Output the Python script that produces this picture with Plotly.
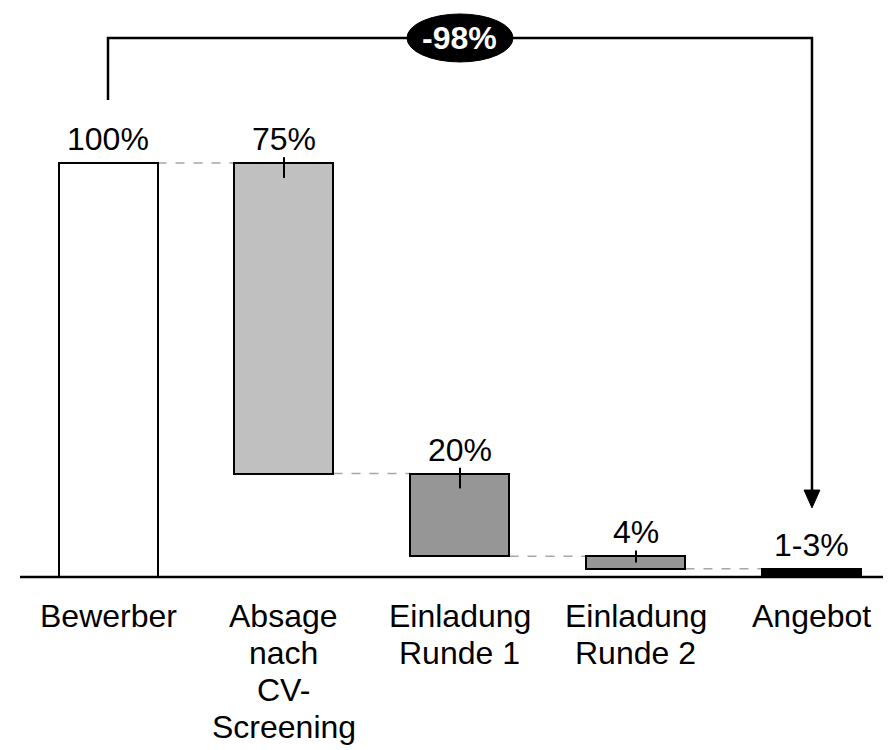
import plotly.graph_objects as go

categories = [["Bewerber"], ["Absage", "nach", "CV-", "Screening"], ["Einladung", "Runde 1"], ["Einladung", "Runde 2"], ["Angebot"]]
bar_base = [0, 25, 5, 2, 0]
bar_height = [100, 75, 20, 3, 2]
value_labels = ["100%", "75%", "20%", "4%", "1-3%"]
bar_colors = ["#FFFFFF", "#C0C0C0", "#969696", "#969696", "#000000"]
total_change_label = "-98%"

FONT = "Arial, Liberation Sans, sans-serif"
FS = 32
x = list(range(len(categories)))
tops = [b + h for b, h in zip(bar_base, bar_height)]

fig = go.Figure()
fig.add_trace(go.Bar(
    x=x, y=bar_height, base=bar_base, width=0.5625,
    marker=dict(color=bar_colors, line=dict(color="#000000", width=2)),
    hoverinfo="skip", showlegend=False,
))

shapes = []
annotations = []

# dashed connectors
for i in range(len(x) - 1):
    level = tops[i + 1] if i == 0 else bar_base[i]
    shapes.append(dict(type="line", xref="x", yref="y",
                       x0=x[i] + 0.28125, x1=x[i + 1] - 0.28125, y0=level, y1=level,
                       line=dict(color="#A6A6A6", width=1.5, dash="dash"), layer="below"))

# small ticks at bar tops
for i in range(1, 4):
    y1 = max(tops[i] - 3.6, (tops[i] + bar_base[i]) / 2)
    shapes.append(dict(type="line", xref="x", yref="y", x0=x[i], x1=x[i],
                       y0=tops[i] + 1.4, y1=y1, line=dict(color="#000000", width=2)))

# baseline
shapes.append(dict(type="line", xref="paper", yref="y", x0=0, x1=1, y0=0, y1=0,
                   line=dict(color="#000000", width=2.5)))

# bracket
bracket_y = 130.2
shapes.append(dict(type="path", xref="x", yref="y",
                   path=f"M {x[0]},115.2 L {x[0]},{bracket_y} L {x[-1]},{bracket_y} L {x[-1]},20",
                   line=dict(color="#000000", width=2.5)))
# arrow head
shapes.append(dict(type="path", xref="x", yref="y",
                   path=f"M {x[-1]-0.045},21.0 L {x[-1]+0.045},21.0 L {x[-1]},16.7 Z",
                   fillcolor="#000000", line=dict(color="#000000", width=1)))
# ellipse
shapes.append(dict(type="circle", xref="x", yref="y", xsizemode="pixel", ysizemode="pixel",
                   xanchor=x[2], yanchor=bracket_y, x0=-53, x1=53, y0=-24, y1=24,
                   fillcolor="#000000", line=dict(color="#000000", width=1)))
annotations.append(dict(x=x[2], y=bracket_y, xref="x", yref="y", text=f"<b>{total_change_label}</b>",
                        showarrow=False, font=dict(family=FONT, size=FS, color="#FFFFFF")))

# value labels
for i in x:
    annotations.append(dict(x=i, y=tops[i], xref="x", yref="y", text=value_labels[i],
                            showarrow=False, yanchor="middle", yshift=24,
                            font=dict(family=FONT, size=FS, color="#000000")))

# category labels
for i, lines in enumerate(categories):
    for j, line in enumerate(lines):
        annotations.append(dict(x=i, y=0, xref="x", yref="y", text=line, showarrow=False,
                                yanchor="middle", yshift=-(39 + 37 * j),
                                font=dict(family=FONT, size=FS, color="#000000")))

fig.update_layout(
    width=883, height=742,
    margin=dict(l=12, r=0, t=0, b=150),
    paper_bgcolor="#FFFFFF", plot_bgcolor="#FFFFFF",
    xaxis=dict(range=[-0.5, 4.449], visible=False, fixedrange=True),
    yaxis=dict(range=[-5.556, 137.44], visible=False, fixedrange=True),
    shapes=shapes, annotations=annotations,
    bargap=0,
)

fig.write_html("out.html")
